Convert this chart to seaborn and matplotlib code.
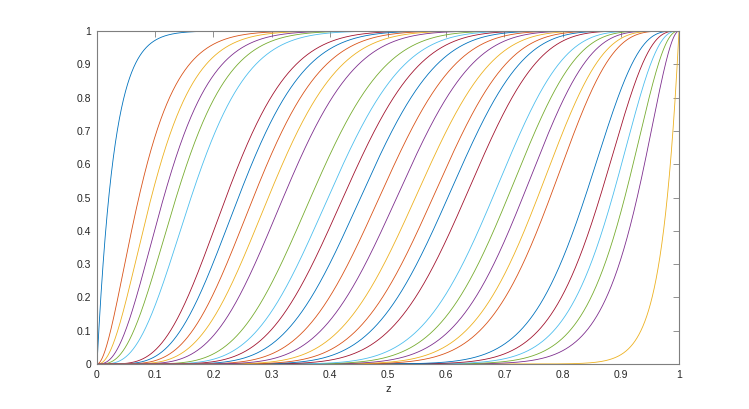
import numpy as np
import pandas as pd
import matplotlib
matplotlib.use("Agg")
import matplotlib.pyplot as plt
import seaborn as sns

# Beta-CDF shape parameters, in the order the curves are drawn
# (first 16 run left to right, the last 16 are their mirror images, right to left)
a_left = [1.0, 2.0, 2.5, 3.0, 3.5, 4.1, 5.5, 6.0, 6.6, 7.2, 7.8, 8.9, 9.6, 10.2, 10.9, 11.65]
b_left = [34.0, 22.0, 21.5, 21.0, 20.5, 19.9, 18.5, 18.0, 17.4, 16.8, 16.2, 15.1, 14.4, 13.8, 13.1, 12.35]
a_right = list(b_left)
b_right = list(a_left)
a_all = a_left + a_right
b_all = b_left + b_right

x_ticks = [0, 0.1, 0.2, 0.3, 0.4, 0.5, 0.6, 0.7, 0.8, 0.9, 1]
y_ticks = [0, 0.1, 0.2, 0.3, 0.4, 0.5, 0.6, 0.7, 0.8, 0.9, 1]
tick_labels = ["0", "0.1", "0.2", "0.3", "0.4", "0.5", "0.6", "0.7", "0.8", "0.9", "1"]

matlab_colors = ["#0072BD", "#D95319", "#EDB120", "#7E2F8E",
                 "#77AC30", "#4DBEEE", "#A2142F"]


def beta_cdf(z, a, b):
    pdf = np.power(z, a - 1) * np.power(1 - z, b - 1)
    cdf = np.concatenate([[0.0], np.cumsum((pdf[1:] + pdf[:-1]) / 2 * np.diff(z))])
    return cdf / cdf[-1]


z = np.linspace(0, 1, 4001)
frames = []
for i, (a, b) in enumerate(zip(a_all, b_all)):
    frames.append(pd.DataFrame({"z": z, "F": beta_cdf(z, a, b), "curve": i}))
df = pd.concat(frames, ignore_index=True)

sns.set_style("white")
plt.rcParams["font.family"] = ["Liberation Sans", "DejaVu Sans"]

fig = plt.figure(figsize=(7.49, 4.09), dpi=100)
ax = fig.add_axes([97 / 749, 45 / 409, 582 / 749, 333 / 409])

palette = [matlab_colors[i % 7] for i in range(len(a_all))]
sns.lineplot(data=df, x="z", y="F", hue="curve", palette=palette,
             hue_order=list(range(len(a_all))), sort=False, estimator=None,
             legend=False, linewidth=0.6, ax=ax)

ax.set_xlim(0, 1)
ax.set_ylim(0, 1)
ax.set_xticks(x_ticks)
ax.set_xticklabels(tick_labels)
ax.set_yticks(y_ticks)
ax.set_yticklabels(tick_labels)
ax.set_xlabel("z", fontsize=8, color="#262626", labelpad=3)
ax.set_ylabel("")
ax.tick_params(direction="in", length=4, width=0.6, color="#7f7f7f",
               labelsize=7.5, labelcolor="#262626", top=True, right=True,
               pad=4)
for s in ax.spines.values():
    s.set_visible(True)
    s.set_color("#7f7f7f")
    s.set_linewidth(0.8)

fig.savefig("out.png", dpi=100)
